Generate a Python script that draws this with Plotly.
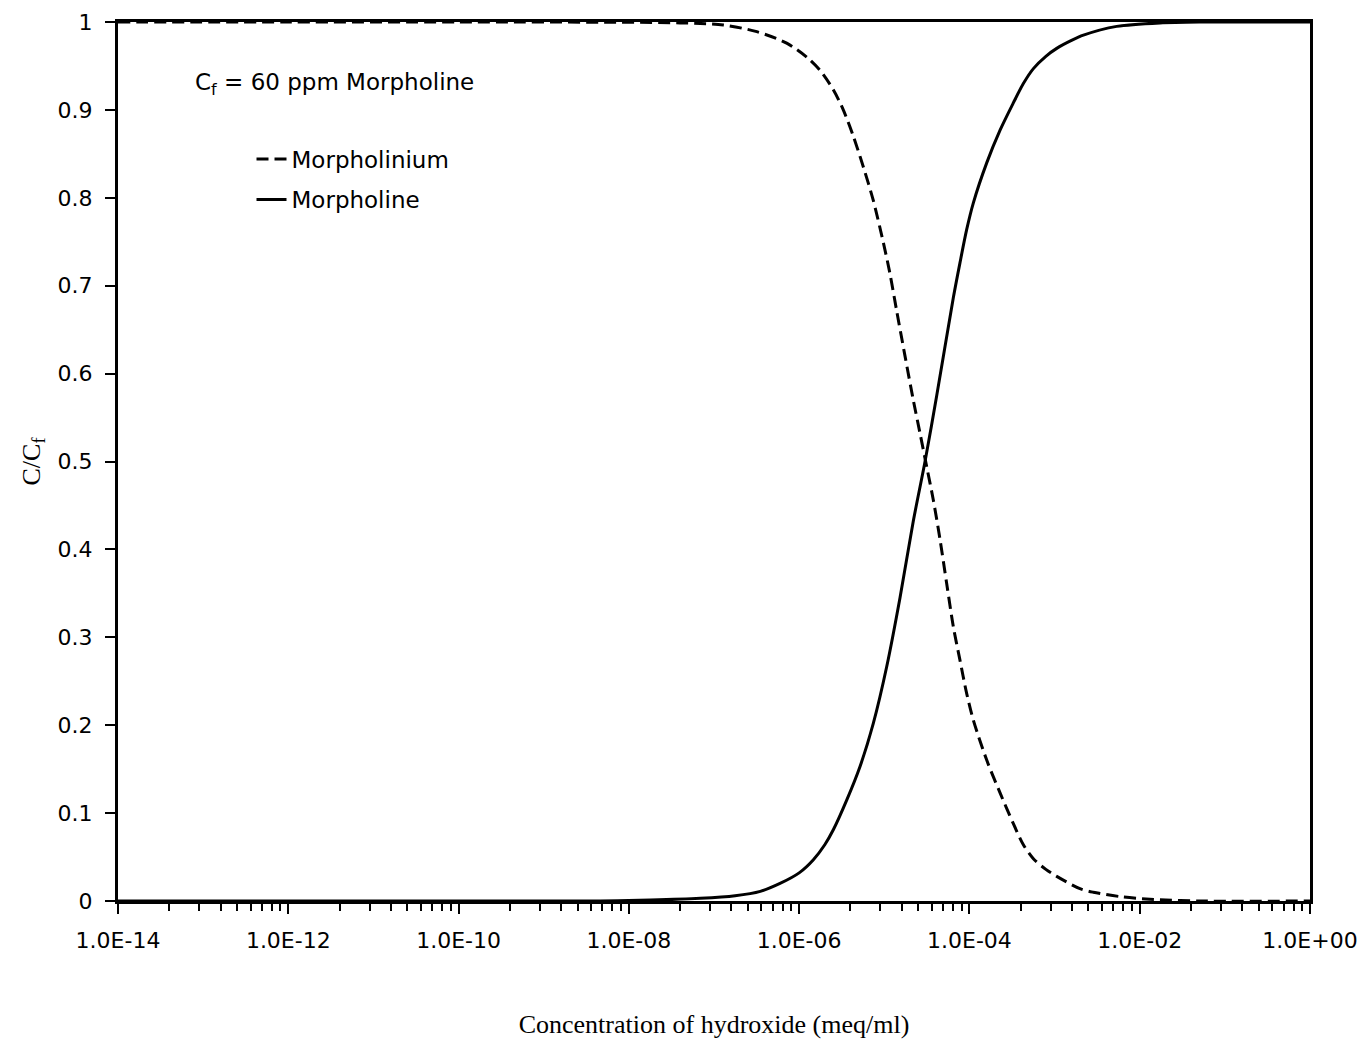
import plotly.graph_objects as go

# ---- data ----
morpholine_x = [1e-14, 1e-12, 1e-10, 4.6e-9, 1.8e-8, 6.9e-8, 1.77e-7, 3.5e-7, 5.96e-7,
                1.0e-6, 1.47e-6, 2.0e-6, 2.52e-6, 3.63e-6, 5.19e-6, 7.43e-6, 1.07e-5,
                1.53e-5, 2.19e-5, 3.01e-5, 4.13e-5, 6.46e-5, 7.74e-5, 9.29e-5, 1.11e-4,
                1.60e-4, 2.29e-4, 3.28e-4, 4.30e-4, 5.64e-4, 7.9e-4, 1.06e-3, 1.58e-3,
                2.18e-3, 5.37e-3, 1.73e-2, 5.1e-2, 1.0]
morpholine_y = [0.0, 0.0, 0.0, 0.0, 0.001, 0.003, 0.006, 0.011, 0.020,
                0.032, 0.047, 0.064, 0.081, 0.115, 0.153, 0.202, 0.267,
                0.345, 0.432, 0.500, 0.575, 0.686, 0.726, 0.764, 0.794,
                0.840, 0.877, 0.908, 0.930, 0.947, 0.961, 0.970, 0.979,
                0.985, 0.995, 0.999, 1.0, 1.0]

morpholinium_x = [1e-14, 1e-12, 1e-10, 4.0e-8, 1.29e-7, 3.18e-7, 7.14e-7, 1.23e-6, 1.76e-6,
                  2.52e-6, 3.30e-6, 4.33e-6, 5.68e-6, 7.43e-6, 9.75e-6, 1.17e-5, 1.40e-5,
                  2.19e-5, 2.63e-5, 3.15e-5, 3.77e-5, 4.52e-5, 5.41e-5, 6.47e-5, 7.74e-5,
                  9.29e-5, 1.11e-4, 1.60e-4, 2.29e-4, 3.28e-4, 4.30e-4, 5.64e-4, 7.9e-4,
                  1.06e-3, 1.99e-3, 2.85e-3, 5.87e-3, 1.32e-2, 5.1e-2, 1.0]
morpholinium_y = [1.0, 1.0, 1.0, 0.999, 0.9966, 0.989, 0.976, 0.960, 0.945,
                  0.923, 0.900, 0.870, 0.835, 0.797, 0.749, 0.713, 0.671,
                  0.570, 0.532, 0.494, 0.456, 0.411, 0.361, 0.312, 0.274,
                  0.236, 0.206, 0.160, 0.123, 0.088, 0.064, 0.048, 0.036,
                  0.028, 0.014, 0.010, 0.005, 0.002, 0.0, 0.0]

x_tick_vals = [1e-14, 1e-12, 1e-10, 1e-8, 1e-6, 1e-4, 1e-2, 1e0]
x_tick_text = ["1.0E-14", "1.0E-12", "1.0E-10", "1.0E-08", "1.0E-06", "1.0E-04", "1.0E-02", "1.0E+00"]
y_tick_vals = [0, 0.1, 0.2, 0.3, 0.4, 0.5, 0.6, 0.7, 0.8, 0.9, 1.0]
y_tick_text = ["0", "0.1", "0.2", "0.3", "0.4", "0.5", "0.6", "0.7", "0.8", "0.9", "1"]

# minor ticks (spreadsheet-style log spacing within each two-decade major interval)
minor_vals = [v * k * k for v in x_tick_vals[:-1] for k in range(2, 10)]

SANS = "DejaVu Sans, Arial, sans-serif"
SERIF = "Liberation Serif, Times New Roman, serif"

fig = go.Figure()
fig.add_trace(go.Scatter(
    x=morpholinium_x, y=morpholinium_y, mode="lines", name="Morpholinium",
    line=dict(color="black", width=3, dash="12px,6px", shape="spline", smoothing=0.8),
    legend="legend",
))
fig.add_trace(go.Scatter(
    x=morpholine_x, y=morpholine_y, mode="lines", name="Morpholine",
    line=dict(color="black", width=3, shape="spline", smoothing=0.8),
    legend="legend2",
))

fig.update_layout(
    width=1366, height=1044,
    margin=dict(l=118, r=56, t=22, b=143),
    paper_bgcolor="white", plot_bgcolor="white",
    font=dict(family=SANS, size=22, color="black"),
    legend=dict(x=0.112, y=0.844, xanchor="left", yanchor="middle",
                bgcolor="rgba(0,0,0,0)", font=dict(family=SANS, size=23)),
    legend2=dict(x=0.112, y=0.798, xanchor="left", yanchor="middle",
                 bgcolor="rgba(0,0,0,0)", font=dict(family=SANS, size=23)),
    showlegend=True,
)

fig.update_xaxes(
    type="log", range=[-14, 0], automargin=False,
    tickvals=x_tick_vals, ticktext=x_tick_text,
    ticks="outside", ticklen=10, tickwidth=2, tickcolor="black",
    ticklabelstandoff=8,
    tickfont=dict(family=SANS, size=22),
    minor=dict(tickvals=minor_vals, ticks="outside", ticklen=7, tickwidth=2,
               tickcolor="black", showgrid=False),
    showline=True, linecolor="black", linewidth=3, mirror=True,
    showgrid=False, zeroline=False,
    title=dict(text="Concentration of hydroxide (meq/ml)",
               font=dict(family=SERIF, size=26), standoff=63),
)
fig.update_yaxes(
    range=[0, 1], automargin=False,
    tickvals=y_tick_vals, ticktext=y_tick_text,
    ticks="outside", ticklen=10, tickwidth=2, tickcolor="black",
    ticklabelstandoff=8,
    tickfont=dict(family=SANS, size=22),
    showline=True, linecolor="black", linewidth=3, mirror=True,
    showgrid=False, zeroline=False,
    title=dict(text="C/C<sub>f</sub>", font=dict(family=SERIF, size=26), standoff=10),
)

fig.add_annotation(
    text="C<sub>f</sub> = 60 ppm Morpholine",
    xref="paper", yref="paper", x=0.0629, y=0.929,
    xanchor="left", yanchor="middle", showarrow=False,
    font=dict(family=SANS, size=23, color="black"),
)

fig.write_html("out.html")
